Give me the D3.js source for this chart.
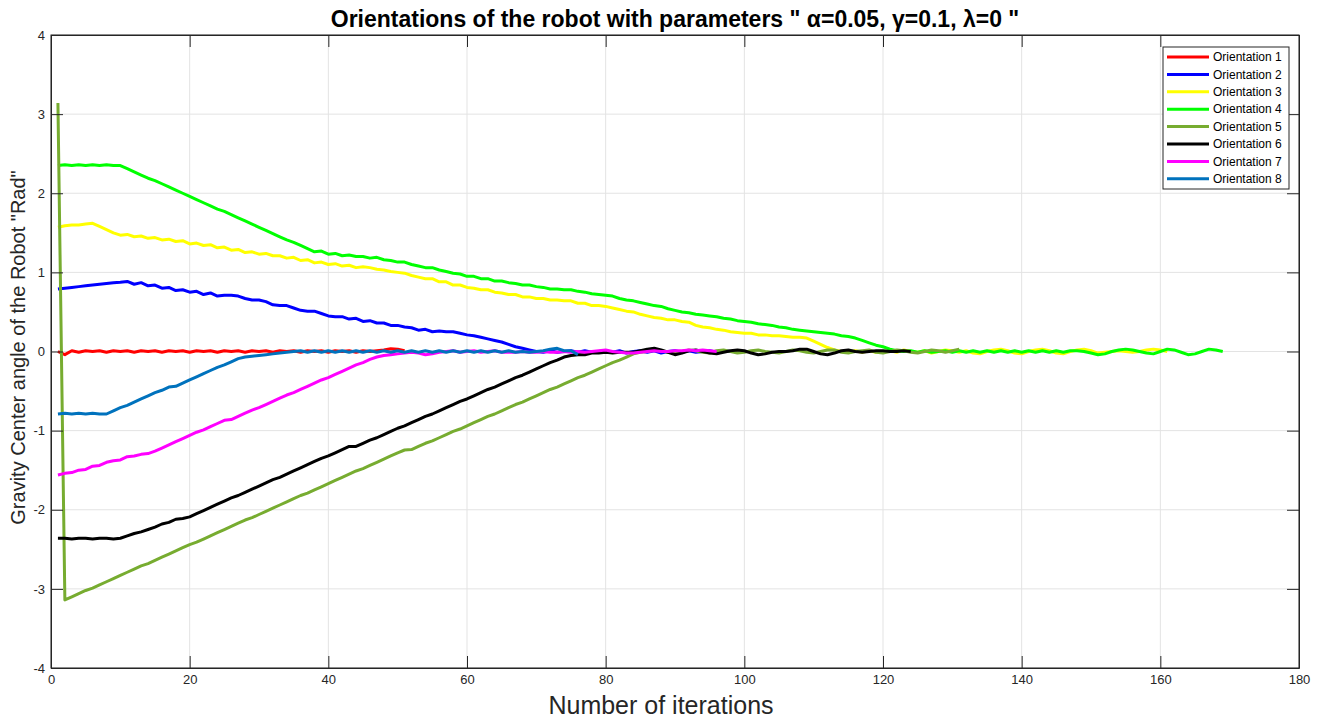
<!DOCTYPE html>
<html>
<head>
<meta charset="utf-8">
<script src="https://cdn.jsdelivr.net/npm/d3@7"></script>
<style>
  body { margin: 0; background: #fff; }
  text { font-family: "Liberation Sans", Arial, sans-serif; }
</style>
</head>
<body>
<div id="chart"></div>
<script>
// values per iteration (iteration 1, 2, 3, ...)
const orient1 = [
  0.00, -0.04, 0.01, -0.01, 0.01, 0.00, 0.01, -0.01, 0.01, 0.00,
  0.01, -0.01, 0.01, 0.00, 0.01, -0.01, 0.01, 0.00, 0.01, -0.01,
  0.01, 0.00, 0.01, -0.01, 0.01, 0.00, 0.01, -0.01, 0.01, 0.00,
  0.01, -0.01, 0.01, 0.00, 0.01, -0.01, 0.01, 0.00, 0.01, -0.01,
  0.01, 0.00, 0.01, -0.01, 0.01, 0.00, 0.01, 0.02, 0.035, 0.03,
  0.01
];
const orient2 = [
  0.79, 0.80, 0.81, 0.82, 0.83, 0.84, 0.85, 0.86, 0.87, 0.875,
  0.885, 0.85, 0.87, 0.83, 0.84, 0.80, 0.81, 0.77, 0.78, 0.75,
  0.76, 0.72, 0.74, 0.70, 0.71, 0.71, 0.70, 0.67, 0.65, 0.65,
  0.63, 0.59, 0.58, 0.58, 0.55, 0.52, 0.51, 0.51, 0.48, 0.45,
  0.44, 0.44, 0.41, 0.42, 0.38, 0.39, 0.36, 0.36, 0.33, 0.33,
  0.31, 0.30, 0.27, 0.28, 0.25, 0.26, 0.25, 0.25, 0.23, 0.21,
  0.20, 0.18, 0.16, 0.14, 0.12, 0.09, 0.06, 0.04, 0.02, 0.00,
  -0.01, 0.01, -0.01, 0.00, 0.01, -0.01, 0.01, -0.01, 0.00, 0.01,
  -0.01, 0.01, -0.02, 0.00, 0.01, -0.01, 0.01, -0.02, 0.00, 0.01,
  -0.01, 0.01, -0.01, 0.00, 0.01, -0.01, 0.01, 0.00
];
const orient3 = [
  1.57, 1.59, 1.60, 1.60, 1.61, 1.62, 1.58, 1.54, 1.50, 1.47,
  1.48, 1.45, 1.46, 1.43, 1.44, 1.41, 1.42, 1.39, 1.40, 1.36,
  1.37, 1.34, 1.35, 1.31, 1.32, 1.28, 1.29, 1.25, 1.26, 1.23,
  1.24, 1.21, 1.21, 1.18, 1.19, 1.15, 1.16, 1.12, 1.13, 1.10,
  1.11, 1.08, 1.09, 1.06, 1.07, 1.06, 1.04, 1.03, 1.01, 1.00,
  0.99, 0.96, 0.94, 0.92, 0.92, 0.88, 0.88, 0.84, 0.84, 0.81,
  0.80, 0.78, 0.78, 0.75, 0.74, 0.72, 0.72, 0.69, 0.69, 0.67,
  0.67, 0.65, 0.65, 0.64, 0.64, 0.61, 0.61, 0.58, 0.58, 0.57,
  0.55, 0.53, 0.51, 0.50, 0.47, 0.45, 0.43, 0.42, 0.40, 0.40,
  0.38, 0.37, 0.33, 0.31, 0.30, 0.28, 0.27, 0.25, 0.24, 0.23,
  0.23, 0.21, 0.21, 0.20, 0.20, 0.19, 0.18, 0.18, 0.17, 0.13,
  0.09, 0.05, 0.02, 0.00, -0.01, 0.01, -0.01, 0.01, -0.01, 0.00,
  0.01, -0.01, 0.02, 0.00, -0.01, 0.01, -0.02, 0.00, 0.02, 0.01,
  -0.01, 0.01, -0.02, -0.03, 0.00, 0.02, 0.03, 0.01, -0.02, -0.03,
  0.00, 0.02, 0.03, 0.01, -0.02, -0.03, 0.00, 0.02, 0.03, 0.01,
  -0.02, -0.01, 0.00, 0.01, 0.00, -0.01, 0.00, 0.02, 0.03, 0.02,
  0.00
];
const orient4 = [
  2.35, 2.36, 2.35, 2.36, 2.35, 2.36, 2.35, 2.36, 2.35, 2.35,
  2.31, 2.27, 2.23, 2.19, 2.16, 2.12, 2.08, 2.04, 2.00, 1.96,
  1.92, 1.88, 1.84, 1.80, 1.77, 1.73, 1.69, 1.65, 1.61, 1.57,
  1.53, 1.49, 1.45, 1.41, 1.38, 1.34, 1.30, 1.26, 1.27, 1.23,
  1.24, 1.21, 1.22, 1.20, 1.20, 1.18, 1.19, 1.16, 1.15, 1.13,
  1.13, 1.10, 1.08, 1.06, 1.06, 1.03, 1.01, 0.99, 0.98, 0.95,
  0.95, 0.92, 0.92, 0.89, 0.89, 0.87, 0.86, 0.84, 0.84, 0.82,
  0.81, 0.79, 0.79, 0.78, 0.78, 0.76, 0.75, 0.73, 0.72, 0.71,
  0.70, 0.67, 0.65, 0.64, 0.62, 0.60, 0.58, 0.57, 0.54, 0.52,
  0.50, 0.49, 0.47, 0.46, 0.45, 0.44, 0.42, 0.41, 0.39, 0.38,
  0.37, 0.35, 0.34, 0.33, 0.31, 0.30, 0.28, 0.27, 0.26, 0.25,
  0.24, 0.23, 0.22, 0.20, 0.19, 0.17, 0.14, 0.11, 0.08, 0.06,
  0.03, 0.01, 0.00, 0.01, -0.01, 0.01, -0.01, 0.00, 0.01, -0.01,
  0.01, -0.01, 0.01, -0.01, 0.01, -0.01, 0.01, -0.01, 0.01, -0.01,
  0.01, -0.01, 0.01, -0.01, 0.01, -0.01, 0.01, 0.01, 0.00, -0.02,
  -0.04, -0.03, 0.00, 0.02, 0.03, 0.02, 0.00, -0.02, -0.03, 0.00,
  0.03, 0.02, -0.01, -0.04, -0.03, 0.00, 0.03, 0.02, 0.00
];
const orient5 = [
  3.14, -3.14, -3.10, -3.06, -3.02, -2.99, -2.95, -2.91, -2.87, -2.83,
  -2.79, -2.75, -2.71, -2.68, -2.64, -2.60, -2.56, -2.52, -2.48, -2.44,
  -2.41, -2.37, -2.33, -2.29, -2.25, -2.21, -2.17, -2.13, -2.10, -2.06,
  -2.02, -1.98, -1.94, -1.90, -1.86, -1.82, -1.79, -1.75, -1.71, -1.67,
  -1.63, -1.59, -1.55, -1.51, -1.48, -1.44, -1.40, -1.36, -1.32, -1.28,
  -1.245, -1.24, -1.20, -1.16, -1.13, -1.09, -1.05, -1.01, -0.98, -0.94,
  -0.90, -0.86, -0.82, -0.79, -0.75, -0.71, -0.67, -0.64, -0.60, -0.56,
  -0.52, -0.48, -0.45, -0.41, -0.37, -0.33, -0.30, -0.26, -0.22, -0.18,
  -0.14, -0.11, -0.07, -0.03, -0.01, 0.00, 0.02, 0.01, -0.01, -0.02,
  0.00, 0.02, 0.01, -0.01, -0.02, 0.01, 0.02, 0.00, -0.02, -0.01,
  0.01, 0.02, 0.00, -0.01, -0.02, 0.00, 0.02, 0.01, -0.01, -0.02,
  0.00, 0.02, 0.02, -0.01, -0.02, 0.00, 0.01, 0.02, -0.01, -0.02,
  0.00, 0.02, 0.01, -0.01, -0.02, 0.00, 0.02, 0.01, -0.01, 0.01,
  0.03
];
const orient6 = [
  -2.36, -2.36, -2.37, -2.36, -2.36, -2.37, -2.36, -2.36, -2.37, -2.36,
  -2.33, -2.30, -2.28, -2.25, -2.22, -2.18, -2.16, -2.12, -2.11, -2.09,
  -2.05, -2.01, -1.97, -1.93, -1.89, -1.85, -1.82, -1.78, -1.74, -1.70,
  -1.66, -1.62, -1.59, -1.55, -1.51, -1.47, -1.43, -1.39, -1.35, -1.32,
  -1.28, -1.24, -1.20, -1.20, -1.16, -1.12, -1.09, -1.05, -1.01, -0.97,
  -0.94, -0.90, -0.86, -0.82, -0.79, -0.75, -0.71, -0.67, -0.63, -0.60,
  -0.56, -0.52, -0.48, -0.45, -0.41, -0.37, -0.33, -0.30, -0.26, -0.22,
  -0.18, -0.14, -0.11, -0.07, -0.05, -0.04, -0.04, -0.02, -0.02, -0.01,
  -0.02, -0.01, -0.01, -0.01, 0.01, 0.03, 0.04, 0.02, -0.01, -0.04,
  -0.02, 0.01, 0.02, 0.00, -0.02, -0.03, -0.01, 0.01, 0.02, 0.01,
  -0.02, -0.04, -0.03, -0.01, 0.00, 0.00, 0.01, 0.03, 0.03, 0.00,
  -0.03, -0.04, -0.02, 0.01, 0.02, 0.00, -0.01, 0.00, 0.01, 0.01,
  0.00, 0.00, 0.01, 0.00
];
const orient7 = [
  -1.56, -1.54, -1.53, -1.50, -1.49, -1.45, -1.44, -1.40, -1.38, -1.37,
  -1.33, -1.32, -1.30, -1.29, -1.26, -1.22, -1.18, -1.14, -1.10, -1.06,
  -1.02, -0.99, -0.95, -0.91, -0.87, -0.86, -0.82, -0.78, -0.74, -0.71,
  -0.67, -0.63, -0.59, -0.55, -0.52, -0.48, -0.44, -0.40, -0.36, -0.33,
  -0.29, -0.25, -0.21, -0.17, -0.14, -0.10, -0.07, -0.05, -0.04, -0.03,
  -0.02, -0.01, -0.02, -0.04, -0.03, -0.01, 0.00, 0.01, -0.01, 0.00,
  0.01, -0.01, 0.00, 0.01, -0.01, -0.01, -0.01, 0.00, -0.01, -0.01,
  0.00, -0.01, -0.01, 0.00, -0.01, 0.00, -0.01, 0.00, 0.01, 0.02,
  0.00, -0.01, -0.02, -0.02, -0.01, 0.00, 0.01, 0.00, 0.00, 0.01,
  0.01, 0.02, 0.01, 0.02, 0.01, 0.00
];
const orient8 = [
  -0.79, -0.78, -0.79, -0.78, -0.79, -0.78, -0.79, -0.79, -0.75, -0.71,
  -0.68, -0.64, -0.60, -0.56, -0.52, -0.49, -0.45, -0.44, -0.40, -0.36,
  -0.32, -0.28, -0.24, -0.20, -0.17, -0.13, -0.09, -0.07, -0.06, -0.05,
  -0.04, -0.03, -0.02, -0.01, 0.00, 0.01, -0.01, 0.01, -0.01, 0.01,
  -0.01, 0.01, -0.01, 0.01, -0.01, 0.01, -0.01, 0.01, -0.01, 0.01,
  -0.01, 0.01, -0.01, 0.01, -0.01, 0.01, -0.01, 0.01, -0.01, 0.01,
  -0.01, 0.01, -0.01, 0.01, -0.01, 0.01, -0.01, 0.00, -0.01, 0.00,
  0.01, 0.03, 0.04, 0.01, 0.01, -0.04
];

const seriesNames = ["Orientation 1", "Orientation 2", "Orientation 3", "Orientation 4",
                     "Orientation 5", "Orientation 6", "Orientation 7", "Orientation 8"];
const seriesColors = ["#ff0000", "#0000ff", "#ffff00", "#00ff00",
                      "#77ac30", "#000000", "#ff00ff", "#0072bd"];
const xTicks = [0, 20, 40, 60, 80, 100, 120, 140, 160, 180];
const yTicks = [-4, -3, -2, -1, 0, 1, 2, 3, 4];

const allSeries = [orient1, orient2, orient3, orient4, orient5, orient6, orient7, orient8];

const width = 1324, height = 722;
const margin = {top: 35, right: 25, bottom: 54, left: 51};
const innerWidth = width - margin.left - margin.right;
const innerHeight = height - margin.top - margin.bottom;

const svg = d3.select("#chart").append("svg")
  .attr("width", width)
  .attr("height", height);

const g = svg.append("g")
  .attr("transform", `translate(${margin.left},${margin.top})`);

const xScale = d3.scaleLinear().domain([0, 180]).range([0, innerWidth]);
const yScale = d3.scaleLinear().domain([-4, 4]).range([innerHeight, 0]);

// grid
g.append("g").selectAll("line").data(xTicks).join("line")
  .attr("x1", d => xScale(d)).attr("x2", d => xScale(d))
  .attr("y1", 0).attr("y2", innerHeight)
  .attr("stroke", "#e3e3e3").attr("stroke-width", 1);
g.append("g").selectAll("line").data(yTicks).join("line")
  .attr("x1", 0).attr("x2", innerWidth)
  .attr("y1", d => yScale(d)).attr("y2", d => yScale(d))
  .attr("stroke", "#e3e3e3").attr("stroke-width", 1);

// lines
g.append("clipPath").attr("id", "clip")
  .append("rect").attr("width", innerWidth).attr("height", innerHeight);

const line = d3.line()
  .x((d, i) => xScale(i + 1))
  .y(d => yScale(d));

g.append("g").attr("clip-path", "url(#clip)")
  .selectAll("path").data(allSeries).join("path")
  .attr("d", line)
  .attr("fill", "none")
  .attr("stroke", (d, i) => seriesColors[i])
  .attr("stroke-width", 3)
  .attr("stroke-linejoin", "round");

// axes, ticks inward on all four sides
const axisColor = "#262626";
const tickLen = 12;
const fmt = d => String(d);

const xAxis = d3.axisBottom(xScale).tickValues(xTicks).tickFormat(fmt)
  .tickSizeInner(-tickLen).tickSizeOuter(0).tickPadding(7);
const yAxis = d3.axisLeft(yScale).tickValues(yTicks).tickFormat(fmt)
  .tickSizeInner(-tickLen).tickSizeOuter(0).tickPadding(6);

g.append("g").attr("transform", `translate(0,${innerHeight})`).call(xAxis);
g.append("g").call(yAxis);
g.append("g").call(d3.axisTop(xScale).tickValues(xTicks).tickSizeInner(-tickLen).tickSizeOuter(0).tickFormat(""));
g.append("g").attr("transform", `translate(${innerWidth},0)`)
  .call(d3.axisRight(yScale).tickValues(yTicks).tickSizeInner(-tickLen).tickSizeOuter(0).tickFormat(""));

g.selectAll(".domain").attr("stroke", axisColor);
g.selectAll(".tick line").attr("stroke", axisColor);
g.selectAll(".tick text").attr("fill", axisColor)
  .style("font-size", "13px")
  .style("font-family", "'Liberation Sans', Arial, sans-serif");

// frame
g.append("rect").attr("width", innerWidth).attr("height", innerHeight)
  .attr("fill", "none").attr("stroke", axisColor).attr("stroke-width", 1);

// title
svg.append("text")
  .attr("x", margin.left + innerWidth / 2)
  .attr("y", 27)
  .attr("text-anchor", "middle")
  .style("font-size", "23px")
  .style("font-weight", "bold")
  .attr("fill", "#000")
  .text("Orientations of the robot with parameters \" α=0.05, γ=0.1, λ=0 \"");

// axis labels
svg.append("text")
  .attr("x", 661)
  .attr("y", 714)
  .attr("text-anchor", "middle")
  .style("font-size", "25px")
  .attr("fill", axisColor)
  .text("Number of iterations");

svg.append("text")
  .attr("transform", `translate(25,${margin.top + innerHeight / 2 - 4}) rotate(-90)`)
  .attr("text-anchor", "middle")
  .style("font-size", "20px")
  .attr("fill", axisColor)
  .text("Gravity Center angle of the Robot \"Rad\"");

// legend
const legend = svg.append("g").attr("transform", "translate(1163,47)");
legend.append("rect")
  .attr("width", 126).attr("height", 142)
  .attr("fill", "#fff").attr("stroke", axisColor).attr("stroke-width", 1);

const rows = legend.selectAll("g.row").data(seriesNames).join("g")
  .attr("class", "row")
  .attr("transform", (d, i) => `translate(0,${10 + i * 17.4})`);
rows.append("line")
  .attr("x1", 4).attr("x2", 46)
  .attr("stroke", (d, i) => seriesColors[i])
  .attr("stroke-width", 3);
rows.append("text")
  .attr("x", 50).attr("dy", "0.35em")
  .style("font-size", "12px")
  .attr("fill", "#000")
  .text(d => d);
</script>
</body>
</html>
